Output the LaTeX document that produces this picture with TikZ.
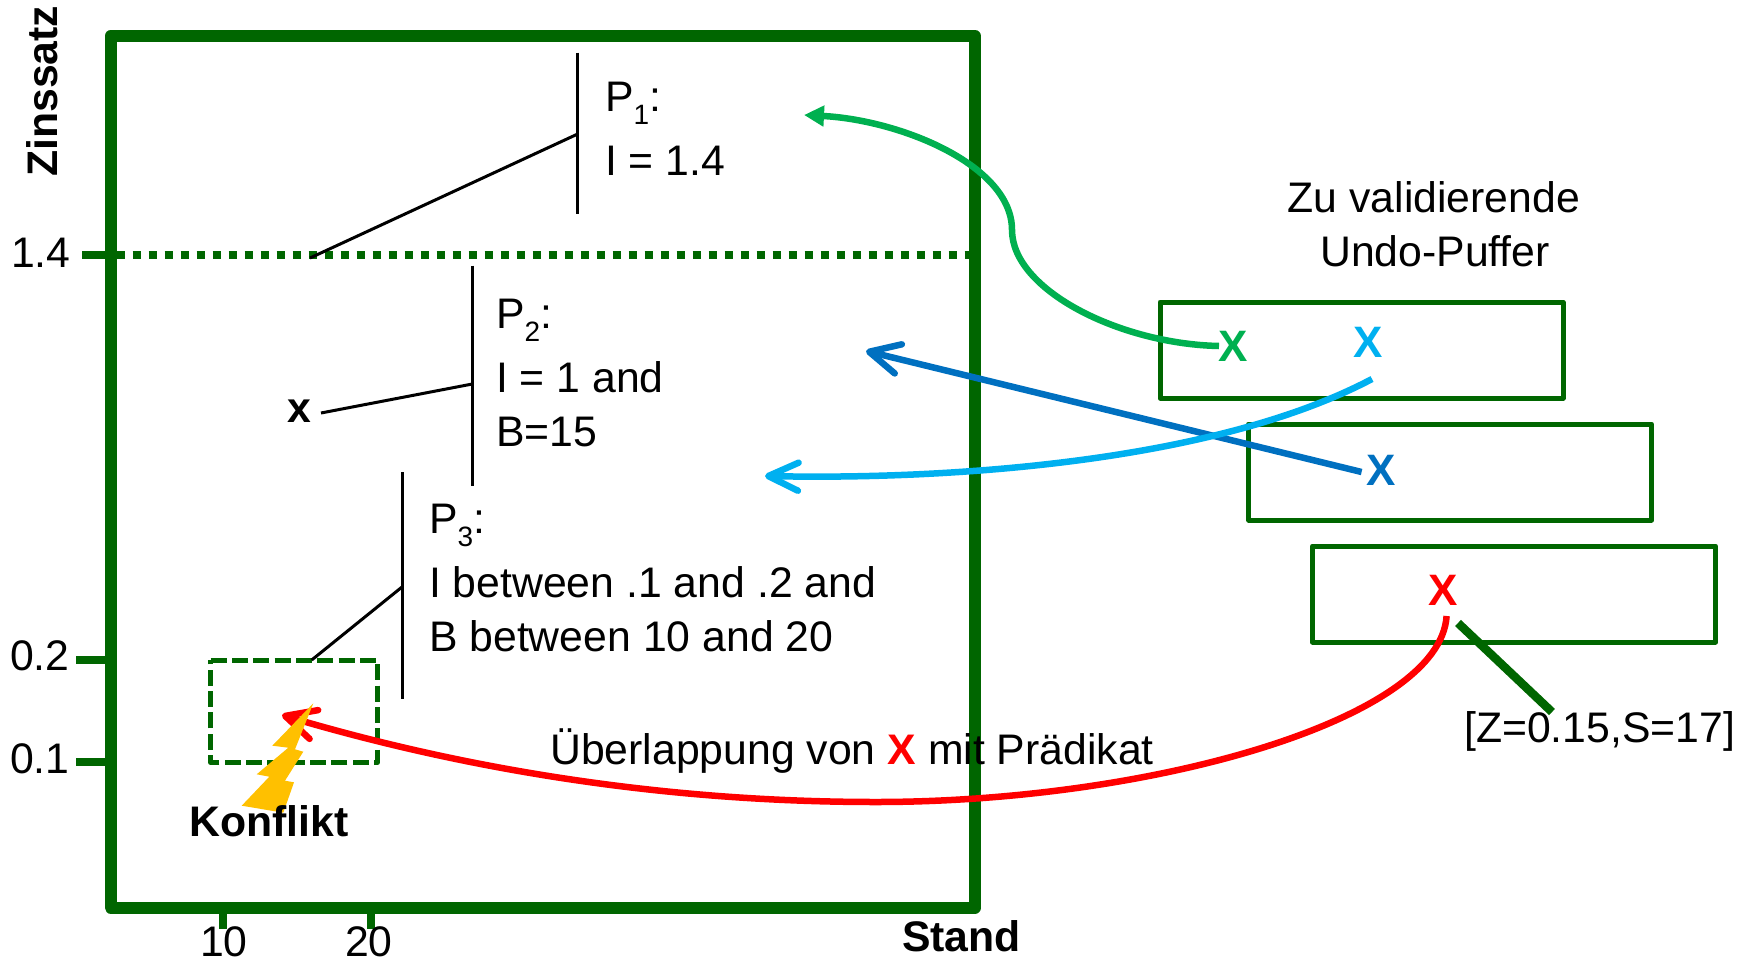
\documentclass[tikz,border=0pt]{standalone}
\usepackage{fontspec}
\setmainfont{Liberation Sans}
\usetikzlibrary{arrows.meta}
\definecolor{frame}{RGB}{0,102,0}
\definecolor{G}{RGB}{0,176,80}
\definecolor{C}{RGB}{0,176,240}
\definecolor{B}{RGB}{0,112,192}
\definecolor{R}{RGB}{255,0,0}
\definecolor{Y}{RGB}{255,192,0}
\newcommand{\drawframe}{\draw[frame,line join=round]}
\newcommand{\predsub}[1]{\raisebox{-13pt}{\fontsize{28}{28}\selectfont #1}}
\newcommand{\undobox}[2]{
    \drawframe[line width=5pt] (#1,#2) rectangle ++(403,96);
}
\tikzset{
  lbl/.style={anchor=base west,inner sep=0pt,font=\fontsize{42.75}{50}\selectfont},
  lblb/.style={lbl,font=\fontsize{42.75}{50}\selectfont\bfseries},
  lblc/.style={lbl,anchor=base},
  thin line/.style={draw=black,line width=3pt},
  undox/.style={inner sep=0pt,font=\fontsize{44}{50}\selectfont\bfseries},
  flow/.style={line width=6.5pt}
}
\begin{document}
\begin{tikzpicture}[x=1pt,y=-1pt]
\useasboundingbox (0,0) rectangle (1750,961);
\drawframe[line width=12pt] (110.5,36)--(975,36)--(975,907.5)--(110.5,907.5)--cycle;
\foreach \y/\x in {255/82,660/76,762/76}{
    \draw[frame,line width=8pt] (\x,\y)--(110,\y);
}
\foreach \x in {223,371}{
    \draw[frame,line width=8pt] (\x,907)--(\x,929);
}
\draw[frame,line width=8pt,dash pattern=on 8pt off 8pt] (116.7,255)--(969,255);
\undobox{1160}{302}
\undobox{1248.7}{424}
\undobox{1312.6}{546}
\draw[frame,line width=5.5pt,line join=round,dash pattern=on 16pt off 5.33pt] (210.7,660.3)--(377.3,660.3)--(377.3,762.3)--(210.7,762.3)--cycle;
% predicate brackets
\coordinate (p1top) at (577.7,52.7);
\coordinate (p1bot) at (577.7,214);
\coordinate (p1mid) at (577.7,134);
\coordinate (p1end) at (310,258);
\coordinate (p2top) at (472.3,265.7);
\coordinate (p2bot) at (472.3,485.7);
\coordinate (p2mid) at (472.3,384);
\coordinate (p2end) at (321,413);
\coordinate (p3top) at (402,472);
\coordinate (p3bot) at (402,699);
\coordinate (p3mid) at (402,587);
\coordinate (p3end) at (311.7,660);
\foreach \p in {p1,p2,p3}{
    \draw[thin line] (\p top)--(\p bot);
    \draw[thin line] (\p mid)--(\p end);
}
% the marks in the undo buffers
\node[undox,text=G] (xgreen) at (1233,346) {X};
\node[undox,text=C] (xcyan) at (1368,342) {X};
\node[undox,text=B] (xblue) at (1381,470) {X};
\node[undox,text=R] (xred) at (1443,590) {X};
\coordinate (bluestart) at (1361.6,472);
\coordinate (bluetip) at (866,351);
\coordinate (cyanstart) at (1372,379);
\coordinate (cyantip) at (765,476);
\coordinate (greenstart) at (1219,346);
\coordinate (greenmid) at (1012,230);
\coordinate (greentip) at (804,115);
\coordinate (redstart) at (1446.6,616);
\coordinate (redmid) at (876,802);
\coordinate (redtip) at (282,715);
\draw[B,flow,-{Straight Barb[round,length=30pt,width=30pt]}] (bluestart)--(bluetip);
\draw[C,flow,-{Straight Barb[round,length=30pt,width=28pt]}] (cyanstart) .. controls (1215,462) and (950,480) .. (cyantip);
\draw[G,flow,-{Triangle[length=20pt,width=20pt]}] (greenstart) .. controls (1120,344) and (1012,290) .. (greenmid) .. controls (1012,165) and (900,120) .. (greentip);
\draw[R,flow,-{Straight Barb[round,length=30pt,width=30pt]}] (redstart) .. controls (1440,720) and (1150,802) .. (redmid) .. controls (650,802) and (450,765) .. (redtip);
\draw[frame,line width=8.5pt] (1458,623)--(1552,712);
\fill[Y] (313.3,703.3)--(272.3,745.7)--(288.3,747.7)--(256.7,774.3)--(269.3,776.7)--(241.7,805.7)--(283.3,812.7)--(294,782.3)--(285,780.7)--(303.3,751.7)--(295,749.3)--cycle;
% labels
\node[lblb,rotate=90] (ylabel) at (57,177) {Zinssatz};
\node[lblb] (xlabel) at (902,951) {Stand};
\node[lbl] (ya) at (11,267) {1.4};
\node[lbl] (yb) at (10,670) {0.2};
\node[lbl] (yc) at (10,773) {0.1};
\node[lblc] (xa) at (224,956) {10};
\node[lblc] (xb) at (369,956) {20};
\node[lbl] (p1head) at (605,111) {P\predsub{1}:};
\node[lbl] (p1text) at (605,175) {I = 1.4};
\node[lbl] (p2head) at (496,328) {P\predsub{2}:};
\node[lbl] (p2text) at (496,392) {I = 1 and};
\node[lbl] (p2more) at (496,446) {B=15};
\node[lbl] (p3head) at (429,533) {P\predsub{3}:};
\node[lbl] (p3text) at (429,597) {I between .1 and .2 and};
\node[lbl] (p3more) at (429,651) {B between 10 and 20};
\node[lblb] (point) at (287,422) {x};
\node[lblb] (conflict) at (189,836) {Konflikt};
\node[lbl] (overlap) at (550,764) {Überlappung von \textcolor{R}{\textbf{X}} mit Prädikat};
\node[lblc] (bufa) at (1434,212) {Zu validierende};
\node[lblc] (bufb) at (1435,266) {Undo-Puffer};
\node[lbl] (tuple) at (1464,742) {[Z=0.15,S=17]};
\end{tikzpicture}
\end{document}
